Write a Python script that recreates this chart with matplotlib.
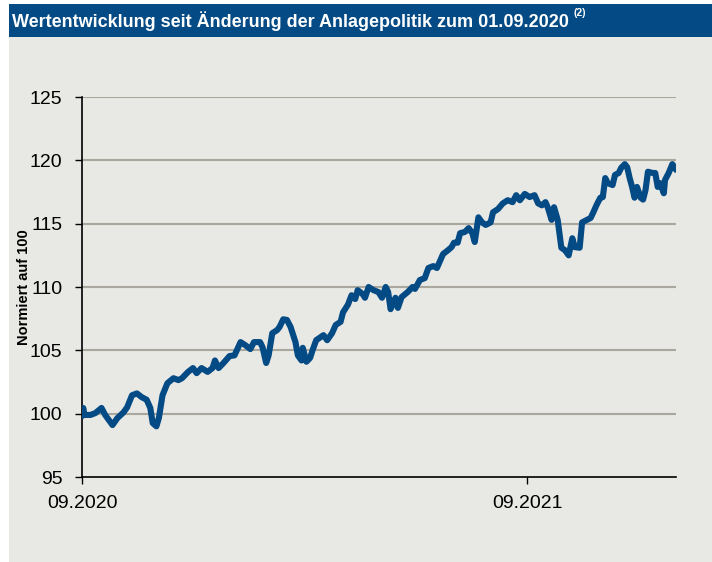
import numpy as np
import matplotlib
matplotlib.use("Agg")
import matplotlib.pyplot as plt
import matplotlib.dates as mdates
from matplotlib.patches import Rectangle
import datetime as dt

# days since 01.09.2020 and normalised value
days = [0, 1, 2, 7, 11, 16, 19, 25, 29, 34, 37, 41, 45, 49, 53, 56, 58, 61, 63, 66,
        70, 75, 79, 82, 87, 91, 94, 98, 103, 107, 109, 112, 116, 121, 125, 130, 134, 138, 141, 146,
        148, 151, 153, 156, 160, 162, 165, 168, 171, 175, 177, 180, 181, 184, 187, 189, 192, 195, 198, 201,
        205, 208, 212, 214, 218, 221, 224, 226, 230, 232, 235, 239, 243, 246, 249, 251, 253, 257, 259, 262,
        267, 271, 273, 277, 281, 284, 288, 291, 294, 296, 300, 303, 305, 308, 310, 314, 317, 320, 322, 325,
        328, 331, 335, 337, 341, 345, 349, 353, 356, 359, 363, 367, 371, 374, 377, 380, 382, 385, 387, 390,
        393, 396, 399, 402, 404, 408, 410, 414, 417, 419, 422, 425, 427, 429, 431, 435, 437, 440, 442, 445,
        447, 449, 451, 453, 455, 458, 460, 462, 464, 468, 470, 472, 474, 477, 478, 481, 484, 487]
werte = [99.8, 100.45, 99.9, 99.9, 100.05, 100.45, 99.9, 99.1, 99.65, 100.1, 100.5, 101.45, 101.6, 101.3, 101.1, 100.45, 99.25, 99.0, 99.65, 101.45,
         102.4, 102.8, 102.65, 102.8, 103.3, 103.6, 103.2, 103.6, 103.3, 103.6, 104.2, 103.6, 104.0, 104.55, 104.6, 105.65, 105.4, 105.1, 105.65, 105.65,
         105.25, 104.0, 104.6, 106.35, 106.6, 106.85, 107.45, 107.4, 106.85, 105.65, 104.6, 104.2, 105.2, 104.1, 104.4, 105.0, 105.8, 106.0, 106.2, 105.8,
         106.35, 107.0, 107.25, 108.0, 108.6, 109.35, 109.05, 109.75, 109.45, 109.15, 110.0, 109.75, 109.6, 109.15, 110.0, 109.6, 108.25, 109.15, 108.35, 109.2,
         109.6, 110.0, 109.85, 110.55, 110.7, 111.5, 111.65, 111.5, 112.15, 112.6, 112.9, 113.15, 113.5, 113.5, 114.25, 114.35, 114.65, 114.25, 113.55, 115.5,
         115.1, 114.9, 115.1, 115.9, 116.15, 116.6, 116.85, 116.7, 117.25, 116.85, 117.35, 117.1, 117.25, 116.6, 116.45, 116.7, 116.25, 115.3, 116.3, 115.3,
         113.1, 112.9, 112.5, 113.85, 113.15, 113.1, 115.1, 115.3, 115.45, 115.85, 116.5, 117.05, 117.1, 118.6, 118.2, 118.05, 118.85, 119.0, 119.4, 119.7,
         119.45, 118.6, 117.9, 117.05, 117.9, 117.05, 116.9, 117.65, 119.1, 119.0, 119.0, 117.9, 118.2, 117.4, 118.45, 119.0, 119.7, 119.25]

start = dt.date(2020, 9, 1)
dates = [start + dt.timedelta(days=d) for d in days]

blau = "#044a84"
grau = "#e8e8e4"
font = ["Liberation Sans Narrow", "Liberation Sans", "DejaVu Sans"]

fig = plt.figure(figsize=(7.12, 5.62), dpi=100)
fig.patches.append(Rectangle((9 / 712, 0), 703 / 712, 1 - 37 / 562, transform=fig.transFigure,
                             facecolor=grau, edgecolor="none", zorder=-10))
fig.patches.append(Rectangle((9 / 712, 1 - 37 / 562), 703 / 712, 33 / 562, transform=fig.transFigure,
                             facecolor=blau, edgecolor="none", zorder=-10))
titel = fig.text(12 / 712, 1 - 21 / 562, "Wertentwicklung seit Änderung der Anlagepolitik zum 01.09.2020",
                 color="white", fontsize=13, fontweight="bold", family=font, va="center", ha="left")
# superscript footnote marker next to the title
fig.add_artist(plt.Annotation("(2)", xy=(1, 1), xycoords=titel, xytext=(3, -5), textcoords="offset points",
                              color="white", fontsize=7.5, fontweight="bold", family=font, va="bottom", ha="left"))

ax = fig.add_axes([82 / 712, 1 - 477 / 562, 594 / 712, 380 / 562])
ax.set_facecolor("none")
ax.plot(dates, werte, color=blau, lw=4.4, solid_capstyle="round", solid_joinstyle="round", zorder=3)

ax.set_ylim(95, 125)
ax.set_yticks(np.arange(95, 126, 5))
ax.set_xlim(start, start + dt.timedelta(days=487))
ax.set_xticks([dt.date(2020, 9, 1), dt.date(2021, 9, 1)])
ax.xaxis.set_major_formatter(mdates.DateFormatter("%m.%Y"))

for v in range(100, 126, 5):
    ax.axhline(v, color="#aaa89e", lw=1.5, zorder=1)

for s in ["top", "right"]:
    ax.spines[s].set_visible(False)
for s in ["left", "bottom"]:
    ax.spines[s].set_color("black")
    ax.spines[s].set_linewidth(1.2)

ax.tick_params(axis="y", direction="out", length=5, width=1, pad=9, labelsize=14)
ax.tick_params(axis="x", direction="out", length=5, width=1, pad=8, labelsize=14)
for lab in ax.get_xticklabels() + ax.get_yticklabels():
    lab.set_family(font)

ax.set_ylabel("Normiert auf 100", fontsize=10.5, fontweight="bold", family=font)
ax.yaxis.set_label_coords(-51 / 594, 0.5)

fig.savefig("out.png", dpi=100)
